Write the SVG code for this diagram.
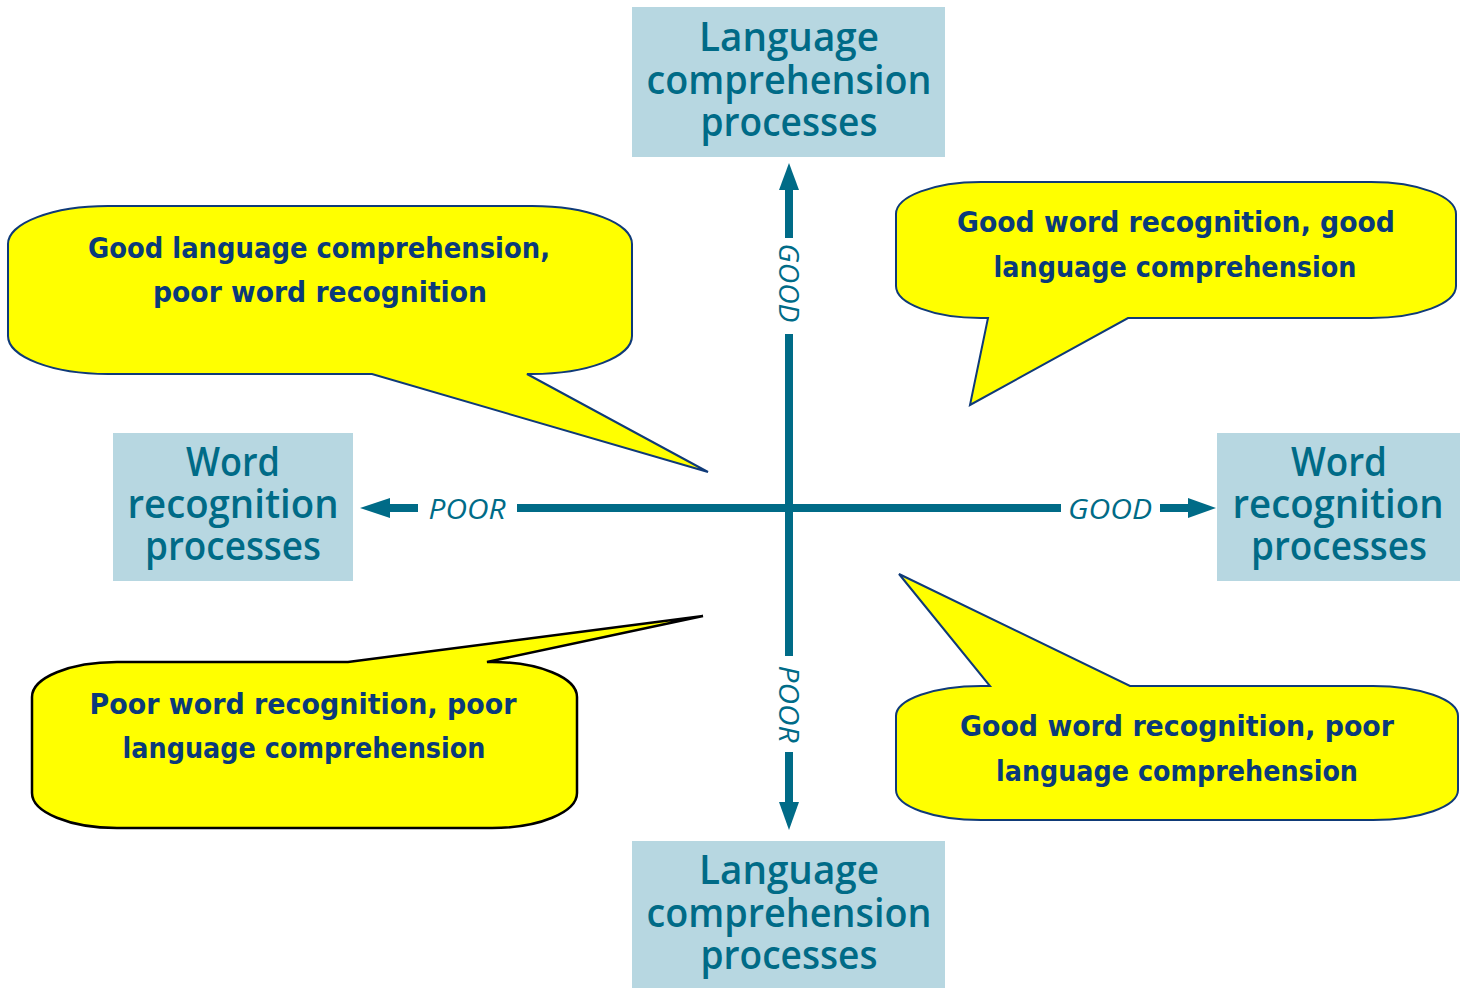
<svg xmlns="http://www.w3.org/2000/svg" width="1470" height="988" viewBox="0 0 1470 988">
<style>
.box{fill:#b7d7e1;}
.bt{font-family:"Open Sans","Noto Sans",sans-serif;font-weight:600;font-size:40px;fill:#006b87;text-anchor:middle;}
.ax{fill:#006b87;}
.axt{font-family:"Open Sans","Noto Sans",sans-serif;font-style:italic;font-size:27px;fill:#006b87;text-anchor:middle;}
.co{fill:#ffff00;stroke:#0f3a78;stroke-width:2;stroke-linejoin:miter;}
.co.blk{stroke:#000;stroke-width:2.5;}
.ct{font-family:"DejaVu Sans","Noto Sans",sans-serif;font-weight:bold;font-size:28px;fill:#0a3a7a;text-anchor:middle;}
</style>
<rect width="1470" height="988" fill="#fff"/>

<g id="connectors">
  <!-- vertical axis -->
  <polygon class="ax" points="789,163 799,190 779,190"/>
  <rect class="ax" x="785" y="188" width="8" height="50"/>
  <rect class="ax" x="785" y="334" width="8" height="322"/>
  <rect class="ax" x="785" y="752" width="8" height="50"/>
  <polygon class="ax" points="789,830 799,802 779,802"/>
  <text class="axt" transform="translate(779,283) rotate(90)" textLength="79" lengthAdjust="spacingAndGlyphs">GOOD</text>
  <text class="axt" transform="translate(779,704) rotate(90)" textLength="77" lengthAdjust="spacingAndGlyphs">POOR</text>
  <!-- horizontal axis -->
  <polygon class="ax" points="360,508 390,498 390,518"/>
  <rect class="ax" x="388" y="504" width="30" height="8"/>
  <rect class="ax" x="517" y="504" width="544" height="8"/>
  <rect class="ax" x="1160" y="504" width="30" height="8"/>
  <polygon class="ax" points="1216,508 1188,498 1188,518"/>
  <text class="axt" x="467" y="519" textLength="77" lengthAdjust="spacingAndGlyphs">POOR</text>
  <text class="axt" x="1110" y="519" textLength="84" lengthAdjust="spacingAndGlyphs">GOOD</text>
</g>

<g id="box-top">
  <rect class="box" x="632" y="7" width="313" height="150"/>
  <text class="bt" x="789" y="51" textLength="180" lengthAdjust="spacingAndGlyphs">Language</text>
  <text class="bt" x="789" y="94" textLength="285" lengthAdjust="spacingAndGlyphs">comprehension</text>
  <text class="bt" x="789" y="136" textLength="177" lengthAdjust="spacingAndGlyphs">processes</text>
</g>
<g id="box-bottom">
  <rect class="box" x="632" y="841" width="313" height="147"/>
  <text class="bt" x="789" y="884" textLength="180" lengthAdjust="spacingAndGlyphs">Language</text>
  <text class="bt" x="789" y="927" textLength="285" lengthAdjust="spacingAndGlyphs">comprehension</text>
  <text class="bt" x="789" y="969" textLength="177" lengthAdjust="spacingAndGlyphs">processes</text>
</g>
<g id="box-left">
  <rect class="box" x="113" y="433" width="240" height="148"/>
  <text class="bt" x="233" y="476" textLength="94" lengthAdjust="spacingAndGlyphs">Word</text>
  <text class="bt" x="233" y="518" textLength="211" lengthAdjust="spacingAndGlyphs">recognition</text>
  <text class="bt" x="233" y="560" textLength="176" lengthAdjust="spacingAndGlyphs">processes</text>
</g>
<g id="box-right">
  <rect class="box" x="1217" y="433" width="243" height="148"/>
  <text class="bt" x="1339" y="476" textLength="96" lengthAdjust="spacingAndGlyphs">Word</text>
  <text class="bt" x="1338" y="518" textLength="211" lengthAdjust="spacingAndGlyphs">recognition</text>
  <text class="bt" x="1339" y="560" textLength="176" lengthAdjust="spacingAndGlyphs">processes</text>
</g>

<g id="callout-top-left">
  <path class="co" d="M108,206 H532 A100,38 0 0 1 632,244 V336 A100,38 0 0 1 532,374 H527 L708,472 L372,374 H108 A100,38 0 0 1 8,336 V244 A100,38 0 0 1 108,206 Z"/>
  <text class="ct" x="319" y="258" textLength="462" lengthAdjust="spacingAndGlyphs">Good language comprehension,</text>
  <text class="ct" x="320" y="302" textLength="334" lengthAdjust="spacingAndGlyphs">poor word recognition</text>
</g>
<g id="callout-top-right">
  <path class="co" d="M981,182 H1371 A85,32 0 0 1 1456,214 V286 A85,32 0 0 1 1371,318 H1128 L970,405 L988,318 H981 A85,32 0 0 1 896,286 V214 A85,32 0 0 1 981,182 Z"/>
  <text class="ct" x="1176" y="232" textLength="438" lengthAdjust="spacingAndGlyphs">Good word recognition, good</text>
  <text class="ct" x="1175" y="277" textLength="363" lengthAdjust="spacingAndGlyphs">language comprehension</text>
</g>
<g id="callout-bottom-left">
  <path class="co blk" d="M117,662 H348 L703,616 L487,662 H492 A85,35 0 0 1 577,697 V793 A85,35 0 0 1 492,828 H117 A85,35 0 0 1 32,793 V697 A85,35 0 0 1 117,662 Z"/>
  <text class="ct" x="303" y="714" textLength="427" lengthAdjust="spacingAndGlyphs">Poor word recognition, poor</text>
  <text class="ct" x="304" y="758" textLength="363" lengthAdjust="spacingAndGlyphs">language comprehension</text>
</g>
<g id="callout-bottom-right">
  <path class="co" d="M981,686 H990 L899,574 L1130,686 H1373 A85,30 0 0 1 1458,716 V790 A85,30 0 0 1 1373,820 H981 A85,30 0 0 1 896,790 V716 A85,30 0 0 1 981,686 Z"/>
  <text class="ct" x="1177" y="736" textLength="434" lengthAdjust="spacingAndGlyphs">Good word recognition, poor</text>
  <text class="ct" x="1177" y="781" textLength="362" lengthAdjust="spacingAndGlyphs">language comprehension</text>
</g>
</svg>
